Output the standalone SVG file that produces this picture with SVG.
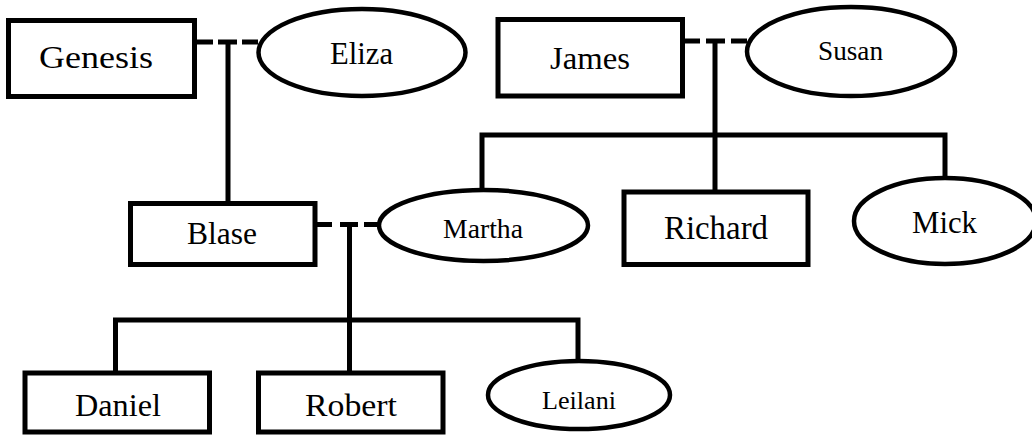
<svg xmlns="http://www.w3.org/2000/svg" width="1032" height="435" viewBox="0 0 1032 435">
<style>
.box{fill:#fff;stroke:#000;stroke-width:5}
.ell{fill:#fff;stroke:#000;stroke-width:4.5}
.ln{fill:none;stroke:#000;stroke-width:5;stroke-linejoin:miter;stroke-linecap:butt}
text{font-family:"Liberation Serif","Times New Roman",serif;fill:#000;text-anchor:middle}
</style>
<rect width="1032" height="435" fill="#fff"/>
<g id="connectors">
<path class="ln" d="M197,42H213M218,42H237M242,42H258"/>
<path class="ln" d="M228,42V202"/>
<path class="ln" d="M685,41H700M706,41H725M731,41H747"/>
<path class="ln" d="M715,41V190"/>
<path class="ln" d="M482,190V135H945V178"/>
<path class="ln" d="M317,224.5H332M340,224.5H358M364,224.5H379"/>
<path class="ln" d="M349.5,224.5V371"/>
<path class="ln" d="M115.5,371V320H578V361"/>
</g>
<g id="genesis"><rect class="box" x="8.5" y="20.5" width="186" height="76"/><text x="96" y="68" font-size="32" textLength="114" lengthAdjust="spacingAndGlyphs">Genesis</text></g>
<g id="eliza"><ellipse class="ell" cx="362" cy="52.5" rx="103.5" ry="43.5"/><text x="361.5" y="64" font-size="31" textLength="63" lengthAdjust="spacingAndGlyphs">Eliza</text></g>
<g id="james"><rect class="box" x="498" y="19.5" width="184.5" height="76.5"/><text x="590" y="69" font-size="32" textLength="80" lengthAdjust="spacingAndGlyphs">James</text></g>
<g id="susan"><ellipse class="ell" cx="851" cy="51.5" rx="104" ry="44.5"/><text x="850.5" y="60" font-size="27" textLength="65" lengthAdjust="spacingAndGlyphs">Susan</text></g>
<g id="blase"><rect class="box" x="130.5" y="203.5" width="184.5" height="61"/><text x="222" y="244" font-size="32" textLength="70" lengthAdjust="spacingAndGlyphs">Blase</text></g>
<g id="martha"><ellipse class="ell" cx="483.5" cy="225.5" rx="104.5" ry="35.5"/><text x="483" y="238" font-size="28" textLength="80" lengthAdjust="spacingAndGlyphs">Martha</text></g>
<g id="richard"><rect class="box" x="624" y="192" width="184" height="72.5"/><text x="716" y="239" font-size="33" textLength="104" lengthAdjust="spacingAndGlyphs">Richard</text></g>
<g id="mick"><ellipse class="ell" cx="945" cy="221" rx="91" ry="43"/><text x="944.5" y="233" font-size="32" textLength="65" lengthAdjust="spacingAndGlyphs">Mick</text></g>
<g id="daniel"><rect class="box" x="25" y="373" width="184.5" height="59"/><text x="118" y="416" font-size="32" textLength="86" lengthAdjust="spacingAndGlyphs">Daniel</text></g>
<g id="robert"><rect class="box" x="258.5" y="373" width="184.5" height="59"/><text x="351" y="416" font-size="32" textLength="92" lengthAdjust="spacingAndGlyphs">Robert</text></g>
<g id="leilani"><ellipse class="ell" cx="579" cy="395" rx="91" ry="34"/><text x="579" y="409" font-size="25" textLength="74" lengthAdjust="spacingAndGlyphs">Leilani</text></g>
</svg>
